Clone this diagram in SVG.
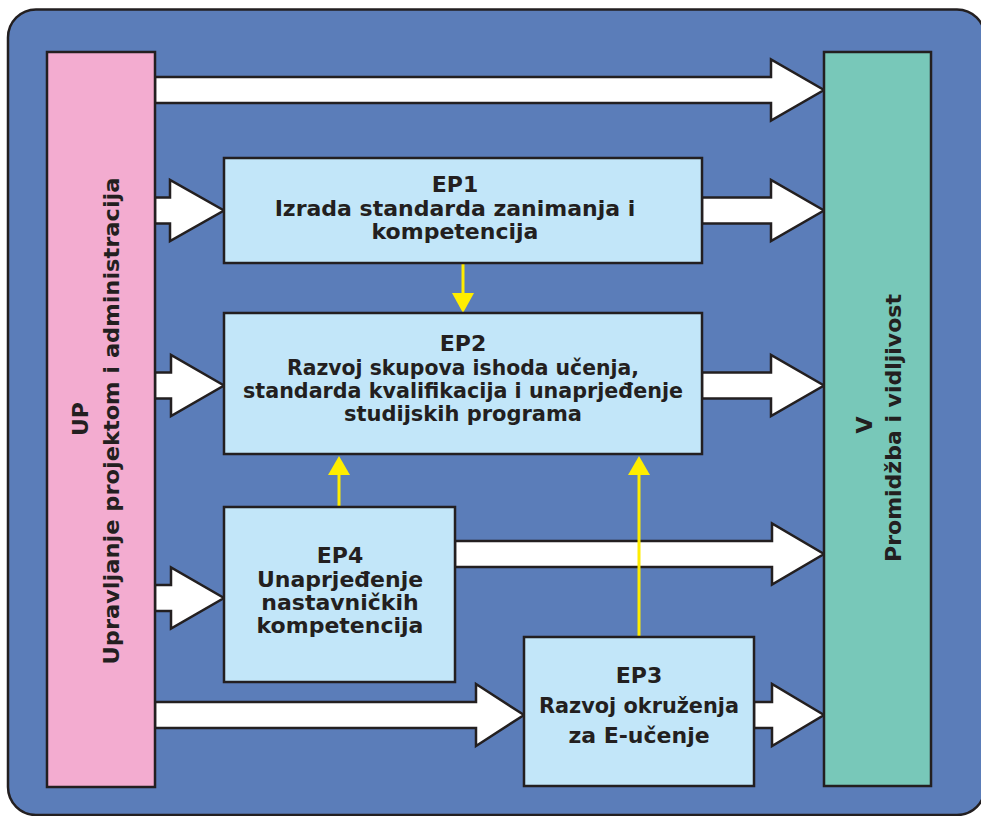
<svg xmlns="http://www.w3.org/2000/svg" width="981" height="816" viewBox="0 0 981 816">
<style>
.frame{fill:#5b7db9;stroke:#231f20;stroke-width:2.5}
.box{stroke:#231f20;stroke-width:2.5}
.ep{fill:#c2e6f9}
.up{fill:#f3acd0}
.v{fill:#78c8b9}
.arr{fill:#ffffff;stroke:#231f20;stroke-width:2.5;stroke-linejoin:miter}
.yl{stroke:#ffed00;stroke-width:3;fill:none}
.yh{fill:#ffed00}
text{font-family:"DejaVu Sans","Liberation Sans",sans-serif;font-weight:bold;font-size:22px;fill:#231f20;text-anchor:middle}
</style>
<rect class="frame" x="8" y="9.5" width="977" height="805.5" rx="28" ry="28"/>
<g id="connectors">
<polygon class="arr" points="155,77 771,77 771,59.5 824,90 771,120.5 771,103 155,103"/>
<polygon class="arr" points="155,197.5 170,197.5 170,180 224,210.5 170,241 170,223.5 155,223.5"/>
<polygon class="arr" points="702,197.5 771,197.5 771,180 824,210.5 771,241 771,223.5 702,223.5"/>
<polygon class="arr" points="155,372.5 171,372.5 171,355 224,385.5 171,416 171,398.5 155,398.5"/>
<polygon class="arr" points="702,372.5 771,372.5 771,355 824,385.5 771,416 771,398.5 702,398.5"/>
<polygon class="arr" points="155,585 171,585 171,567.5 224,598 171,628.5 171,611 155,611"/>
<polygon class="arr" points="455,541 772,541 772,523.5 824,554 772,584.5 772,567 455,567"/>
<polygon class="arr" points="155,702 476,702 476,684 524,715 476,746 476,728 155,728"/>
<polygon class="arr" points="754,702 772,702 772,684 824,715 772,746 772,728 754,728"/>
<line class="yl" x1="463" y1="264" x2="463" y2="294"/>
<polygon class="yh" points="452,293 474,293 463,313"/>
<line class="yl" x1="339" y1="506" x2="339" y2="474"/>
<polygon class="yh" points="328,475 350,475 339,456"/>
<line class="yl" x1="639" y1="636" x2="639" y2="474"/>
<polygon class="yh" points="628,475 650,475 639,456"/>
</g>
<g id="UP">
<rect class="box up" x="47" y="52" width="108" height="735"/>
<text transform="translate(88,419) rotate(-90)">UP</text>
<text transform="translate(119,421) rotate(-90)" textLength="487" lengthAdjust="spacingAndGlyphs">Upravljanje projektom i administracija</text>
</g>
<g id="V">
<rect class="box v" x="824" y="52" width="107" height="734"/>
<text transform="translate(872,425) rotate(-90)">V</text>
<text transform="translate(901,428) rotate(-90)">Promidžba i vidljivost</text>
</g>
<g id="EP1">
<rect class="box ep" x="224" y="158" width="478" height="105"/>
<text x="455" y="192">EP1</text>
<text x="455" y="216">Izrada standarda zanimanja i</text>
<text x="455" y="239">kompetencija</text>
</g>
<g id="EP2">
<rect class="box ep" x="224" y="313" width="478" height="141"/>
<text x="463" y="351">EP2</text>
<text x="463" y="375" textLength="352" lengthAdjust="spacingAndGlyphs">Razvoj skupova ishoda učenja,</text>
<text x="463" y="398" textLength="440" lengthAdjust="spacingAndGlyphs">standarda kvalifikacija i unaprjeđenje</text>
<text x="463" y="421" textLength="238" lengthAdjust="spacingAndGlyphs">studijskih programa</text>
</g>
<g id="EP4">
<rect class="box ep" x="224" y="507" width="231" height="175"/>
<text x="340" y="563">EP4</text>
<text x="340" y="587">Unaprjeđenje</text>
<text x="340" y="610">nastavničkih</text>
<text x="340" y="633">kompetencija</text>
</g>
<g id="EP3">
<rect class="box ep" x="524" y="637" width="230" height="149"/>
<text x="639" y="683">EP3</text>
<text x="639" y="713" textLength="200" lengthAdjust="spacingAndGlyphs">Razvoj okruženja</text>
<text x="639" y="743">za E-učenje</text>
</g>
</svg>
